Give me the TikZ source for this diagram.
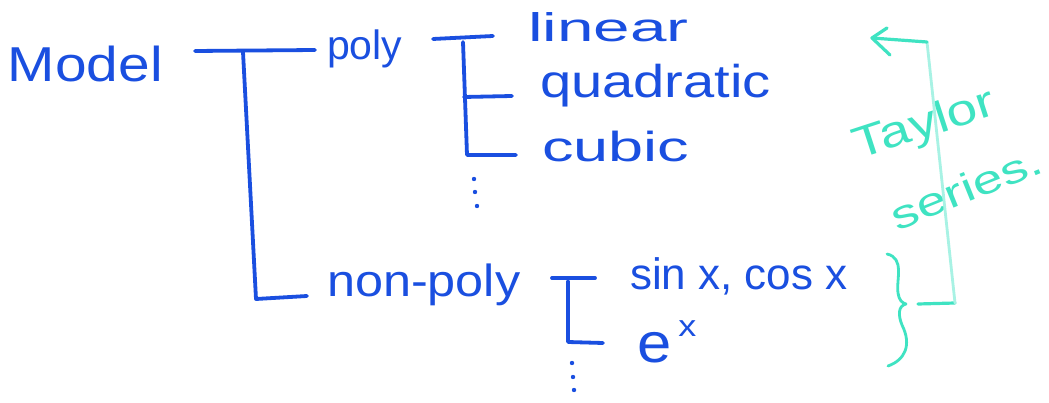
\documentclass[tikz,border=0pt]{standalone}
\usepackage{fontspec}
\setmainfont{Liberation Sans}
\definecolor{pen}{HTML}{1A4FE0}
\definecolor{teal2}{HTML}{3FE3C2}
\definecolor{tealpale}{HTML}{A8F2E4}
\newcommand{\hw}[3]{\fontsize{#1}{#1}\selectfont\scalebox{#2}[1]{#3}}
\tikzset{
  ink/.style={draw=pen, line width=3.8pt, line cap=round, line join=round},
  tink/.style={draw=teal2, line width=3.2pt, line cap=round, line join=round},
  lbl/.style={text=pen, anchor=base west, inner sep=0pt, outer sep=0pt},
  tlbl/.style={text=teal2, inner sep=0pt, outer sep=0pt},
  dot/.style={fill=pen, circle, inner sep=0pt, minimum size=4.4pt}
}
\begin{document}
\begin{tikzpicture}[x=1pt, y=-1pt]
\useasboundingbox[fill=white] (0,0) rectangle (1049,403);
% labels
\node[lbl] (model) at (8,82) {\hw{49}{1.16}{Model}};
\node[lbl] (poly) at (327,60) {\hw{41}{1.0}{poly}};
\node[lbl] (nonpoly) at (327,297) {\hw{45}{1.12}{non-poly}};
\node[lbl] (linear) at (528,42) {\hw{40}{1.64}{linear}};
\node[lbl] (quadratic) at (540,98) {\hw{46}{1.22}{quadratic}};
\node[lbl] (cubic) at (542,162) {\hw{42}{1.5}{cubic}};
\node[lbl] (sincos) at (630,290) {\hw{44}{1.0}{sin x, cos x}};
\node[lbl] (ex) at (637,362) {\hw{56}{1.1}{e}\hspace{7pt}\raisebox{26pt}{\hw{30}{1.2}{x}}};
\node[tlbl, rotate=18] (taylor) at (925,126) {\hw{44}{1.25}{Taylor}};
\node[tlbl, rotate=22] (series) at (966,188) {\hw{40}{1.35}{series.}};
% main bracket
\coordinate (a1) at (195,51);
\coordinate (a2) at (315,50);
\coordinate (a3) at (243,52);
\coordinate (a4) at (256,299);
\coordinate (a5) at (307,296);
\draw[ink] (a1) -- (a2);
\draw[ink] (a3) -- (a4) -- (a5);
% poly bracket
\coordinate (b1) at (433,39);
\coordinate (b2) at (493,36);
\coordinate (b3) at (463,42);
\coordinate (b4) at (467,155);
\coordinate (b5) at (516,155);
\coordinate (b6) at (464,97);
\coordinate (b7) at (512,96);
\draw[ink] (b1) -- (b2);
\draw[ink] (b3) -- (b4) -- (b5);
\draw[ink] (b6) -- (b7);
\node[dot] (bd1) at (474,179) {};
\node[dot] (bd2) at (475,192) {};
\node[dot] (bd3) at (477,206) {};
% non-poly bracket
\coordinate (c1) at (552,278);
\coordinate (c2) at (595,278);
\coordinate (c3) at (568,281);
\coordinate (c4) at (568,342);
\coordinate (c5) at (603,343);
\draw[ink] (c1) -- (c2);
\draw[ink] (c3) -- (c4) -- (c5);
\node[dot] (cd1) at (572,363) {};
\node[dot] (cd2) at (573,377) {};
\node[dot] (cd3) at (574,390) {};
% teal brace
\coordinate (e1) at (887,254);
\coordinate (e2) at (906,304);
\coordinate (e3) at (888,366);
\draw[tink, line width=2.8pt] (e1) .. controls (905,258) and (896,280) .. (898,293)
  .. controls (899,300) and (902,303) .. (e2)
  .. controls (898,306) and (898,315) .. (902,325)
  .. controls (912,345) and (905,360) .. (e3);
% teal return arrow
\coordinate (d1) at (918,304);
\coordinate (d2) at (955,303);
\coordinate (d3) at (927,42);
\coordinate (d4) at (872,38);
\coordinate (d5) at (887,28);
\coordinate (d6) at (890,55);
\draw[tink] (d1) -- (d2);
\draw[draw=tealpale, line width=2.8pt, line cap=round] (d2) -- (d3);
\draw[tink] (d3) -- (d4);
\draw[tink] (d5) -- (d4) -- (d6);
\end{tikzpicture}
\end{document}
